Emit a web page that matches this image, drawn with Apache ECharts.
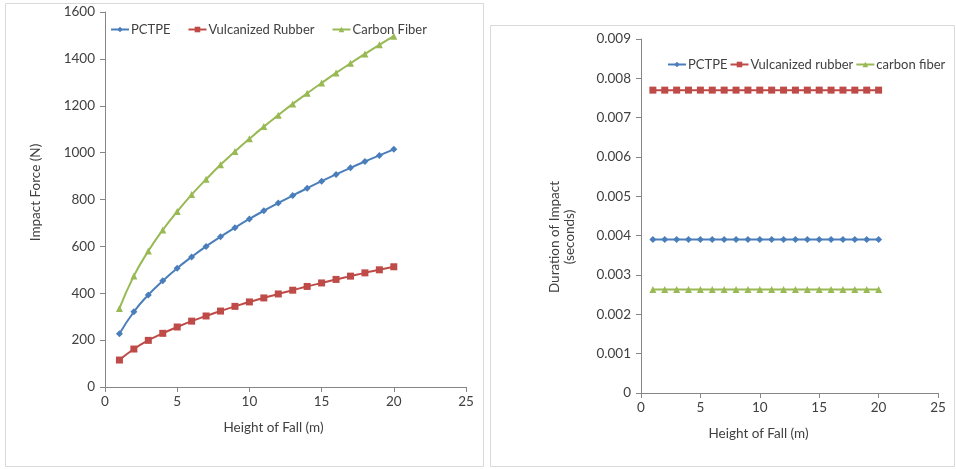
<!DOCTYPE html>
<html>
<head>
<meta charset="utf-8">
<script src="https://cdn.jsdelivr.net/npm/echarts@6/dist/echarts.min.js"></script>
<style>
  html, body { margin: 0; padding: 0; background: #fff; }
  #chart { width: 956px; height: 469px; }
</style>
</head>
<body>
<div id="chart"></div>
<script>
const heights = [1, 2, 3, 4, 5, 6, 7, 8, 9, 10, 11, 12, 13, 14, 15, 16, 17, 18, 19, 20]

// Impact force (N)
const pctpeForce = [227, 321, 393, 453, 507, 555, 600, 641, 680, 717, 752, 785, 817, 848, 878, 907, 935, 962, 988, 1014]
const rubberForce = [115, 162, 199, 229, 256, 281, 303, 324, 344, 363, 380, 397, 413, 429, 444, 459, 473, 487, 500, 513]
const carbonForce = [335, 474, 580, 670, 749, 821, 886, 948, 1005, 1059, 1111, 1160, 1208, 1253, 1297, 1340, 1381, 1421, 1460, 1497]

// Duration of impact (seconds)
const pctpeDuration = [0.0039, 0.0039, 0.0039, 0.0039, 0.0039, 0.0039, 0.0039, 0.0039, 0.0039, 0.0039, 0.0039, 0.0039, 0.0039, 0.0039, 0.0039, 0.0039, 0.0039, 0.0039, 0.0039, 0.0039]
const rubberDuration = [0.0077, 0.0077, 0.0077, 0.0077, 0.0077, 0.0077, 0.0077, 0.0077, 0.0077, 0.0077, 0.0077, 0.0077, 0.0077, 0.0077, 0.0077, 0.0077, 0.0077, 0.0077, 0.0077, 0.0077]
const carbonDuration = [0.00263, 0.00263, 0.00263, 0.00263, 0.00263, 0.00263, 0.00263, 0.00263, 0.00263, 0.00263, 0.00263, 0.00263, 0.00263, 0.00263, 0.00263, 0.00263, 0.00263, 0.00263, 0.00263, 0.00263]

const blue = '#4a7ebb'
const red = '#be4b48'
const green = '#98b954'
const font = 'Lato, "Open Sans", sans-serif'
const textColor = '#404040'
const fs = 13.5

const chart = echarts.init(document.getElementById('chart'))

function pairs(values) {
  return heights.map((h, i) => [h, values[i]])
}

function xAxisFor(gridIndex, shift) {
  return {
    gridIndex: gridIndex,
    type: 'value',
    min: 0,
    max: 25,
    interval: 5,
    name: 'Height of Fall (m)',
    nameLocation: 'middle',
    nameGap: 34,
    nameTextStyle: { color: textColor, fontSize: fs, fontFamily: font, padding: [0, shift, 0, 0] },
    axisLine: { lineStyle: { color: '#868686' } },
    axisTick: { show: true, length: 5, lineStyle: { color: '#868686' } },
    axisLabel: { color: textColor, fontSize: fs, fontFamily: font, margin: 8 },
    splitLine: { show: false }
  }
}

function line(name, xi, data, color, symbol, size, smooth) {
  return {
    name: name,
    type: 'line',
    xAxisIndex: xi,
    yAxisIndex: xi,
    data: pairs(data),
    smooth: smooth,
    symbol: symbol,
    symbolSize: size,
    showAllSymbol: true,
    lineStyle: { color: color, width: 2 },
    itemStyle: { color: color },
    emphasis: { disabled: true }
  }
}

const option = {
  animation: false,
  backgroundColor: '#fff',
  graphic: [
    { type: 'rect', shape: { x: 5.5, y: 3.5, width: 478, height: 463 }, style: { fill: 'none', stroke: '#d9d9d9', lineWidth: 1 } },
    { type: 'rect', shape: { x: 490.5, y: 25.5, width: 464, height: 441 }, style: { fill: 'none', stroke: '#d9d9d9', lineWidth: 1 } }
  ],
  grid: [
    { left: 105, top: 12, width: 361, height: 375 },
    { left: 641, top: 39, width: 297, height: 354 }
  ],
  legend: [
    {
      data: ['PCTPE', 'Vulcanized Rubber', 'Carbon Fiber'],
      left: 105,
      top: 18,
      width: 360,
      itemWidth: 18,
      itemHeight: 7,
      itemGap: 17,
      textStyle: { color: textColor, fontSize: 13, fontFamily: font, padding: [0, 0, 0, -3] }
    },
    {
      data: ['PCTPE', 'Vulcanized rubber', 'carbon fiber'],
      left: 662,
      top: 53,
      width: 294,
      itemWidth: 18,
      itemHeight: 7,
      itemGap: 2,
      textStyle: { color: textColor, fontSize: 13, fontFamily: font, padding: [0, 0, 0, -3] }
    }
  ],
  xAxis: [xAxisFor(0, 24), xAxisFor(1, 62)],
  yAxis: [
    {
      gridIndex: 0,
      type: 'value',
      min: 0,
      max: 1600,
      interval: 200,
      name: 'Impact Force (N)',
      nameLocation: 'middle',
      nameGap: 62,
      nameTextStyle: { color: textColor, fontSize: fs, fontFamily: font, padding: [0, 0, 0, 14] },
      axisLine: { show: true, lineStyle: { color: '#868686' } },
      axisTick: { show: true, length: 5, lineStyle: { color: '#868686' } },
      axisLabel: { color: textColor, fontSize: fs, fontFamily: font, margin: 10, formatter: v => String(v) },
      splitLine: { show: false }
    },
    {
      gridIndex: 1,
      type: 'value',
      min: 0,
      max: 0.009,
      interval: 0.001,
      name: 'Duration of Impact\n(seconds)',
      nameLocation: 'middle',
      nameGap: 64,
      nameTextStyle: { color: textColor, fontSize: fs, fontFamily: font, lineHeight: 15, padding: [0, 42, 0, 0] },
      axisLine: { show: true, lineStyle: { color: '#868686' } },
      axisTick: { show: true, length: 5, lineStyle: { color: '#868686' } },
      axisLabel: { color: textColor, fontSize: fs, fontFamily: font, margin: 10, formatter: v => String(v) },
      splitLine: { show: false }
    }
  ],
  series: [
    line('PCTPE', 0, pctpeForce, blue, 'diamond', 7, true),
    line('Vulcanized Rubber', 0, rubberForce, red, 'rect', 7, true),
    line('Carbon Fiber', 0, carbonForce, green, 'triangle', 7, true),
    line('PCTPE', 1, pctpeDuration, blue, 'diamond', 7, false),
    line('Vulcanized rubber', 1, rubberDuration, red, 'rect', 7, false),
    line('carbon fiber', 1, carbonDuration, green, 'triangle', 7, false)
  ]
}

chart.setOption(option)
</script>
</body>
</html>
